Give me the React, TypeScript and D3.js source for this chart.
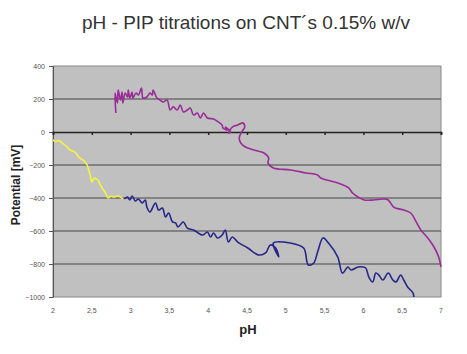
import React from "react";
import * as d3 from "d3";

// series: [pH, potential mV]
const yellowSeries: [number, number][] = [
  [2.0, -48], [2.03, -58], [2.07, -52], [2.12, -67], [2.17, -85], [2.22, -109], [2.28, -121],
  [2.32, -145], [2.35, -158], [2.4, -176], [2.44, -200], [2.46, -230], [2.48, -261],
  [2.5, -303], [2.53, -280], [2.56, -285], [2.58, -291], [2.61, -321], [2.64, -345],
  [2.67, -364], [2.71, -400], [2.75, -388], [2.78, -394], [2.84, -388], [2.9, -406],
];

const blueSeries: [number, number][] = [
  [2.92, -406], [2.96, -394], [2.99, -412], [3.02, -388], [3.06, -418], [3.1, -406],
  [3.15, -430], [3.19, -412], [3.21, -455], [3.25, -485], [3.32, -430], [3.36, -473],
  [3.41, -461], [3.45, -515], [3.49, -491], [3.54, -545], [3.58, -551], [3.61, -576],
  [3.68, -545], [3.73, -582], [3.81, -594], [3.93, -624], [3.99, -606], [4.03, -636],
  [4.07, -612], [4.12, -642], [4.18, -624], [4.22, -594], [4.26, -667], [4.31, -636],
  [4.38, -667], [4.51, -703], [4.65, -745], [4.74, -733], [4.8, -685], [4.87, -703],
  [4.91, -758], [4.84, -673], [5.06, -673], [5.23, -703], [5.29, -806], [5.36, -794],
  [5.41, -727], [5.48, -642], [5.55, -673], [5.67, -758], [5.73, -855], [5.8, -818],
  [5.84, -836], [5.93, -818], [5.99, -818], [6.03, -824], [6.07, -879], [6.12, -909],
  [6.16, -855], [6.2, -867], [6.25, -897], [6.32, -855], [6.38, -897], [6.42, -909],
  [6.48, -867], [6.52, -897], [6.57, -939], [6.64, -976], [6.65, -1000],
];

const purpleSeries: [number, number][] = [
  [2.81, 115], [2.8, 236], [2.83, 176], [2.84, 255], [2.87, 194], [2.89, 242], [2.9, 176],
  [2.93, 236], [2.96, 212], [2.97, 255], [2.99, 206], [3.02, 242], [3.03, 206], [3.07, 236],
  [3.1, 224], [3.14, 267], [3.16, 206], [3.21, 212], [3.25, 236], [3.28, 224], [3.29, 255],
  [3.34, 206], [3.38, 194], [3.42, 182], [3.47, 194], [3.51, 133], [3.55, 152], [3.6, 133],
  [3.64, 164], [3.68, 121], [3.73, 133], [3.77, 145], [3.81, 103], [3.86, 115], [3.9, 85],
  [3.94, 115], [3.99, 85], [4.07, 79], [4.13, 61], [4.18, 42], [4.19, 24], [4.25, 12],
  [4.22, 30], [4.29, 0], [4.26, -6], [4.31, 30], [4.38, 42], [4.45, 55], [4.47, 30],
  [4.43, 0], [4.4, -36], [4.42, -67], [4.48, -91], [4.59, -109], [4.72, -127], [4.78, -158],
  [4.77, -188], [4.84, -218], [5.06, -230], [5.26, -248], [5.41, -261], [5.45, -279],
  [5.67, -309], [5.81, -339], [5.86, -370], [5.93, -394], [6.01, -412], [6.13, -412],
  [6.26, -406], [6.32, -412], [6.39, -455], [6.52, -473], [6.61, -491], [6.68, -545],
  [6.74, -594], [6.83, -642], [6.91, -697], [6.97, -758], [7.0, -818],
];

const xTicks = [2, 2.5, 3, 3.5, 4, 4.5, 5, 5.5, 6, 6.5, 7];
const yTicks = [400, 200, 0, -200, -400, -600, -800, -1000];

const W = 467;
const H = 354;
const plot = { left: 53, right: 441, top: 66, bottom: 297 };

export default function App() {
  const svgRef = React.useRef<SVGSVGElement>(null);

  React.useEffect(() => {
    const svg = d3.select(svgRef.current);
    svg.selectAll("*").remove();

    const x = d3.scaleLinear().domain([2, 7]).range([plot.left, plot.right]);
    const y = d3.scaleLinear().domain([-1000, 400]).range([plot.bottom, plot.top]);

    svg.append("rect").attr("width", W).attr("height", H).attr("fill", "#fff");

    svg
      .append("text")
      .attr("x", 246)
      .attr("y", 29)
      .attr("text-anchor", "middle")
      .attr("font-family", "Liberation Sans, Arial, sans-serif")
      .attr("font-size", 19)
      .attr("fill", "#333")
      .text("pH - PIP titrations on CNT´s 0.15% w/v");

    // plot background
    svg
      .append("rect")
      .attr("x", plot.left)
      .attr("y", plot.top)
      .attr("width", plot.right - plot.left)
      .attr("height", plot.bottom - plot.top)
      .attr("fill", "#c0c0c0")
      .attr("stroke", "#8a8a8a")
      .attr("stroke-width", 1);

    // gridlines
    svg
      .append("g")
      .selectAll("line")
      .data(yTicks.filter((d) => d !== 0 && d !== 400 && d !== -1000))
      .join("line")
      .attr("x1", plot.left)
      .attr("x2", plot.right)
      .attr("y1", (d) => y(d))
      .attr("y2", (d) => y(d))
      .attr("stroke", "#6e6e6e")
      .attr("stroke-width", 1.5);

    // y axis
    const yAxis = svg
      .append("g")
      .attr("transform", `translate(${plot.left},0)`)
      .call(d3.axisLeft(y).tickValues(yTicks).tickSize(4).tickFormat(d3.format("d")));
    yAxis.select(".domain").attr("stroke", "#555");
    yAxis.selectAll(".tick line").attr("stroke", "#555");
    yAxis
      .selectAll("text")
      .attr("font-family", "Liberation Sans, Arial, sans-serif")
      .attr("font-size", 7)
      .attr("fill", "#555")
      .attr("dx", "-1");

    // x axis along zero
    const xAxis = svg
      .append("g")
      .attr("transform", `translate(0,${y(0)})`)
      .call(d3.axisBottom(x).tickValues(xTicks).tickSize(3).tickFormat(() => ""));
    xAxis.select(".domain").attr("stroke", "#222").attr("stroke-width", 1.6);
    xAxis.selectAll(".tick line").attr("stroke", "#222").attr("stroke-width", 1.5);

    // x tick labels below the plot
    svg
      .append("g")
      .selectAll("text")
      .data(xTicks)
      .join("text")
      .attr("x", (d) => x(d))
      .attr("y", 313)
      .attr("text-anchor", "middle")
      .attr("font-family", "Liberation Sans, Arial, sans-serif")
      .attr("font-size", 7)
      .attr("fill", "#555")
      .text((d) => String(d).replace(".", ","));

    const line = d3
      .line<[number, number]>()
      .x((d) => x(d[0]))
      .y((d) => y(d[1]))
      .curve(d3.curveCatmullRom.alpha(0.5));

    const series = [
      { data: purpleSeries, color: "#9a2c98" },
      { data: blueSeries, color: "#26268a" },
      { data: yellowSeries, color: "#f5f53c" },
    ];
    svg
      .append("g")
      .selectAll("path")
      .data(series)
      .join("path")
      .attr("d", (d) => line(d.data))
      .attr("fill", "none")
      .attr("stroke", (d) => d.color)
      .attr("stroke-width", 1.6)
      .attr("stroke-linejoin", "round");

    svg
      .append("text")
      .attr("x", 248)
      .attr("y", 334)
      .attr("text-anchor", "middle")
      .attr("font-family", "Liberation Sans, Arial, sans-serif")
      .attr("font-weight", "bold")
      .attr("font-size", 13)
      .attr("fill", "#222")
      .text("pH");

    svg
      .append("text")
      .attr("transform", `translate(20,185) rotate(-90)`)
      .attr("text-anchor", "middle")
      .attr("font-family", "Liberation Sans, Arial, sans-serif")
      .attr("font-weight", "bold")
      .attr("font-size", 12)
      .attr("fill", "#222")
      .text("Potential [mV]");
  }, []);

  return (
    <svg
      ref={svgRef}
      width={W}
      height={H}
      style={{ position: "absolute", left: 0, top: 0 }}
    />
  );
}
